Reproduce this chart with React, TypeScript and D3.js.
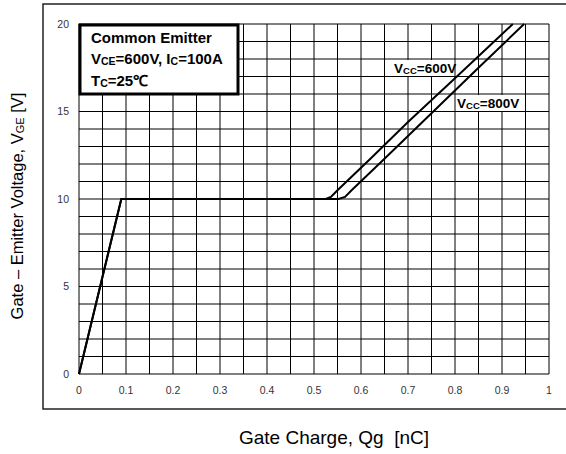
import React from "react";
import * as d3 from "d3";

const xTicks = [0, 0.1, 0.2, 0.3, 0.4, 0.5, 0.6, 0.7, 0.8, 0.9, 1];
const yTicks = [0, 5, 10, 15, 20];
const curve600: [number, number][] = [
  [0, 0], [0.09, 10], [0.525, 10], [0.536, 10.12], [0.55, 10.5], [0.62, 12.3], [0.7, 14.4], [0.8, 16.9], [0.923, 20],
];
const curve800: [number, number][] = [
  [0, 0], [0.09, 10], [0.552, 10], [0.566, 10.12], [0.58, 10.5], [0.65, 12.3], [0.75, 14.9], [0.85, 17.5], [0.947, 20],
];

const W = 566, H = 454;
const L = 79, R = 549, T = 24, B = 374;
const FONT = "'Liberation Sans', Arial, sans-serif";

export default function App() {
  const x = d3.scaleLinear().domain([0, 1]).range([L, R]);
  const y = d3.scaleLinear().domain([0, 20]).range([B, T]);
  const line = d3.line<[number, number]>().x(d => x(d[0])).y(d => y(d[1]));
  const gx = d3.range(0, 21).map(i => i * 0.05);
  const gy = d3.range(0, 21);
  return (
    <svg width={W} height={H} style={{ position: "absolute", left: 0, top: 0 }} fontFamily={FONT}>
      <rect x={0} y={0} width={W} height={H} fill="#fff" />
      <rect x={43} y={4} width={530} height={405} fill="none" stroke="#222" strokeWidth={1.5} />
      {gx.map((v, i) => (
        <line key={"gx" + i} x1={x(v)} x2={x(v)} y1={T} y2={B} stroke="#000" strokeWidth={1} />
      ))}
      {gy.map((v, i) => (
        <line key={"gy" + i} x1={L} x2={R} y1={y(v)} y2={y(v)} stroke="#000" strokeWidth={1} />
      ))}
      {yTicks.map(v => (
        <text key={"yt" + v} x={69} y={y(v)} dy="0.35em" textAnchor="end" fontSize={10.5} fill="#333">{v}</text>
      ))}
      {xTicks.map(v => (
        <text key={"xt" + v} x={x(v)} y={390} dy="0.35em" textAnchor="middle" fontSize={10.5} fill="#333">{String(v)}</text>
      ))}
      <path d={line(curve600) || ""} fill="none" stroke="#000" strokeWidth={2} />
      <path d={line(curve800) || ""} fill="none" stroke="#000" strokeWidth={2} />
      {/* legend box */}
      <rect x={80} y={25} width={158} height={69} fill="#fff" stroke="#000" strokeWidth={3} />
      <text x={91} y={43} fontSize={15} fontWeight="bold" fill="#000">Common Emitter</text>
      <text x={91} y={64} fontSize={15} fontWeight="bold" fill="#000">
        V<tspan fontSize={10.5} dy={1}>CE</tspan><tspan dy={-1}>=600V, I</tspan><tspan fontSize={10.5} dy={1}>C</tspan><tspan dy={-1}>=100A</tspan>
      </text>
      <text x={91} y={86} fontSize={15} fontWeight="bold" fill="#000">
        T<tspan fontSize={10.5} dy={1}>C</tspan><tspan dy={-1}>=25℃</tspan>
      </text>
      {/* curve labels */}
      <rect x={393} y={60} width={60} height={16} fill="#fff" />
      <text x={394} y={73} fontSize={13.5} fontWeight="bold" fill="#000">
        V<tspan fontSize={9.5} dy={1}>CC</tspan><tspan dy={-1}>=600V</tspan>
      </text>
      <rect x={456} y={95} width={59} height={16} fill="#fff" />
      <text x={457} y={108} fontSize={13.5} fontWeight="bold" fill="#000">
        V<tspan fontSize={9.5} dy={1}>CC</tspan><tspan dy={-1}>=800V</tspan>
      </text>
      {/* axis titles */}
      <text x={334} y={444} textAnchor="middle" fontSize={19} fill="#000">{"Gate Charge, Qg\u00a0\u00a0[nC]"}</text>
      <text transform="translate(23,206) rotate(-90)" textAnchor="middle" fontSize={16.5} fill="#000">
        Gate – Emitter Voltage, V<tspan fontSize={11} dy={1}>GE</tspan><tspan dy={-1}> [V]</tspan>
      </text>
    </svg>
  );
}
